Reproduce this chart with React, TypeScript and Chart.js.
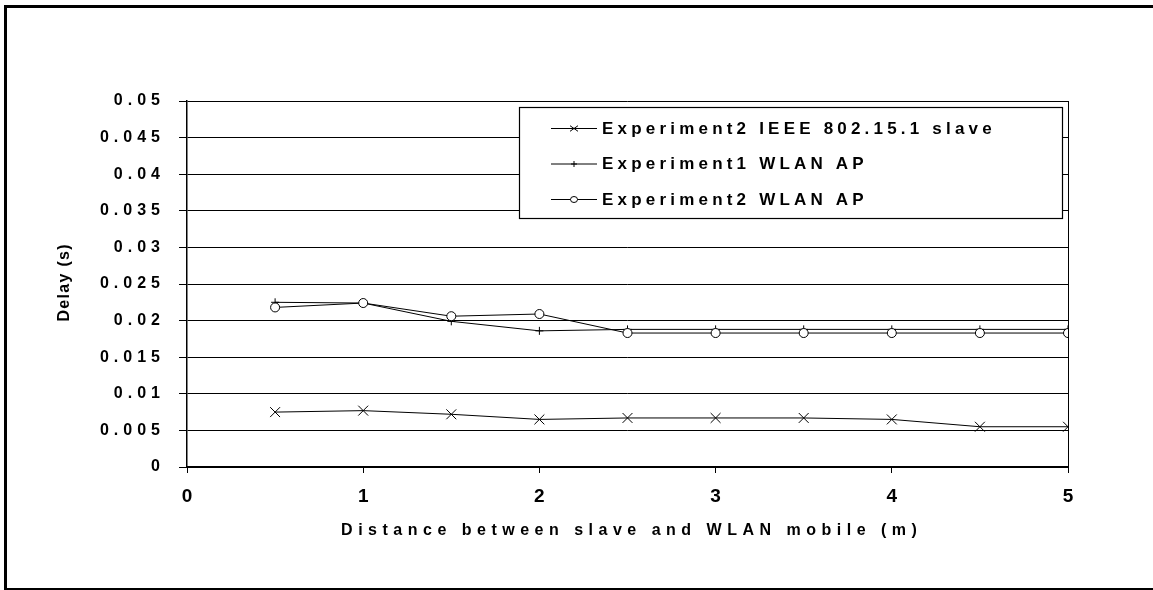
import React, { useEffect, useRef } from 'react';
import { Chart, registerables } from 'chart.js';

Chart.register(...registerables);

// ---- data ----
const distances = [0.5, 1, 1.5, 2, 2.5, 3, 3.5, 4, 4.5, 5];
const slaveDelay = [0.0075, 0.0077, 0.0072, 0.0065, 0.0067, 0.0067, 0.0067, 0.0065, 0.0055, 0.0055];
const exp1ApDelay = [0.0225, 0.0224, 0.0199, 0.0186, 0.0188, 0.0188, 0.0188, 0.0188, 0.0188, 0.0188];
const exp2ApDelay = [0.0218, 0.0224, 0.0206, 0.0209, 0.0183, 0.0183, 0.0183, 0.0183, 0.0183, 0.0183];
const seriesLabels = ['Experiment2 IEEE 802.15.1 slave', 'Experiment1 WLAN AP', 'Experiment2 WLAN AP'];
const seriesMarkers = ['crossRot', 'cross', 'circle'];
const xAxisTitle = 'Distance between slave and WLAN mobile (m)';
const yAxisTitle = 'Delay (s)';
const xMin = 0, xMax = 5, xStep = 1;
const yMin = 0, yMax = 0.05, yStep = 0.005;

const FONT = '"Liberation Sans", Arial, Helvetica, sans-serif';

const decorPlugin = {
  id: 'decor',
  beforeDraw(chart: any) {
    (chart.ctx as any).letterSpacing = '5px';
  },
  afterDatasetsDraw(chart: any) {
    (chart.ctx as any).letterSpacing = '0px';
  },
  afterDraw(chart: any) {
    const ctx = chart.ctx as any;
    const a = chart.chartArea;
    ctx.save();
    ctx.letterSpacing = '0px';
    ctx.strokeStyle = '#000';
    ctx.fillStyle = '#000';

    // right border of plot area
    ctx.lineWidth = 1;
    ctx.beginPath();
    ctx.moveTo(Math.round(a.right) + 0.5, a.top);
    ctx.lineTo(Math.round(a.right) + 0.5, a.bottom);
    ctx.stroke();

    // outer frame
    ctx.lineWidth = 3;
    ctx.beginPath();
    ctx.moveTo(5.5, 590);
    ctx.lineTo(5.5, 6.5);
    ctx.lineTo(1153, 6.5);
    ctx.stroke();
    ctx.lineWidth = 2;
    ctx.beginPath();
    ctx.moveTo(4, 589);
    ctx.lineTo(1153, 589);
    ctx.stroke();

    // legend
    const lx = 519.5, ly = 107.5, lw = 543, lh = 111;
    ctx.fillStyle = '#fff';
    ctx.fillRect(lx, ly, lw, lh);
    ctx.lineWidth = 1.2;
    ctx.strokeRect(lx, ly, lw, lh);
    ctx.fillStyle = '#000';
    ctx.font = `bold 17px ${FONT}`;
    ctx.textBaseline = 'middle';
    ctx.textAlign = 'left';
    chart.data.datasets.forEach((ds: any, i: number) => {
      const y = 128 + i * 35.5;
      ctx.lineWidth = 1;
      ctx.beginPath();
      ctx.moveTo(551, y + 0.5);
      ctx.lineTo(597, y + 0.5);
      ctx.stroke();
      const mx = 574, my = y + 0.5;
      ctx.beginPath();
      if (ds.pointStyle === 'crossRot') {
        ctx.moveTo(mx - 4, my - 2.8); ctx.lineTo(mx + 4, my + 2.8);
        ctx.moveTo(mx - 4, my + 2.8); ctx.lineTo(mx + 4, my - 2.8);
        ctx.stroke();
      } else if (ds.pointStyle === 'cross') {
        ctx.moveTo(mx - 3, my); ctx.lineTo(mx + 3, my);
        ctx.moveTo(mx, my - 3); ctx.lineTo(mx, my + 3);
        ctx.stroke();
      } else {
        ctx.ellipse(mx, my, 3.5, 3, 0, 0, Math.PI * 2);
        ctx.fillStyle = '#fff';
        ctx.fill();
        ctx.stroke();
        ctx.fillStyle = '#000';
      }
      ctx.letterSpacing = '4.2px';
      ctx.fillText(ds.label, 602, y + 1);
      ctx.letterSpacing = '0px';
    });

    // axis titles
    ctx.font = `bold 16px ${FONT}`;
    ctx.textAlign = 'center';
    ctx.textBaseline = 'middle';
    ctx.letterSpacing = '5.5px';
    ctx.fillText(xAxisTitle, 629 + 2.75, 531);

    ctx.save();
    ctx.translate(65, 283);
    ctx.rotate(-Math.PI / 2);
    ctx.font = `bold 16px ${FONT}`;
    ctx.letterSpacing = '1.3px';
    ctx.fillText(yAxisTitle, 0.65, 0);
    ctx.restore();

    ctx.restore();
  },
};

export default function App() {
  const canvasRef = useRef<HTMLCanvasElement | null>(null);

  useEffect(() => {
    document.body.style.margin = '0';
    const canvas = canvasRef.current;
    if (!canvas) return;
    const series = [slaveDelay, exp1ApDelay, exp2ApDelay];
    const orders = [2, 1, 0];
    const radii = [7, 4, 4.5];
    const datasets = series.map((vals, i) => ({
      label: seriesLabels[i],
      data: distances.map((x, j) => ({ x, y: vals[j] })),
      borderColor: '#000',
      borderWidth: 1,
      backgroundColor: '#fff',
      pointStyle: seriesMarkers[i],
      pointRadius: radii[i],
      pointBorderColor: '#000',
      pointBackgroundColor: '#fff',
      pointBorderWidth: 1,
      tension: 0,
      fill: false,
      order: orders[i],
    }));

    const chart = new Chart(canvas, {
      type: 'line',
      data: { datasets },
      options: {
        responsive: false,
        animation: false,
        devicePixelRatio: 1,
        layout: { padding: { top: 101, right: 85, left: 0, bottom: 0 } },
        plugins: {
          legend: { display: false },
          tooltip: { enabled: false },
          title: { display: false },
        },
        scales: {
          x: {
            type: 'linear',
            min: xMin,
            max: xMax,
            ticks: {
              stepSize: xStep,
              padding: 12,
              z: 1,
              color: '#000',
              maxRotation: 0,
              font: { family: '"Liberation Sans Narrow", ' + FONT, size: 19, weight: 'bold' },
            },
            grid: { drawOnChartArea: false, drawTicks: true, tickLength: 6, color: '#000', lineWidth: 1 },
            border: { display: true, color: '#000', width: 2 },
            afterFit: (s: any) => { s.height = 123; },
          },
          y: {
            type: 'linear',
            min: yMin,
            max: yMax,
            ticks: {
              stepSize: yStep,
              padding: 14,
              color: '#000',
              font: { family: FONT, size: 16, weight: 'bold' },
              callback: (v: any) => String(Math.round(Number(v) * 1000) / 1000),
            },
            grid: { color: '#000', lineWidth: 1, drawTicks: true, tickLength: 8 },
            border: { display: true, color: '#000', width: 1.5 },
            afterFit: (s: any) => { s.width = 187; },
          },
        },
      },
      plugins: [decorPlugin],
    } as any);

    return () => chart.destroy();
  }, []);

  return (
    <div style={{ width: 1153, height: 590, overflow: 'hidden' }}>
      <canvas ref={canvasRef} width={1153} height={590} style={{ display: 'block' }} />
    </div>
  );
}
